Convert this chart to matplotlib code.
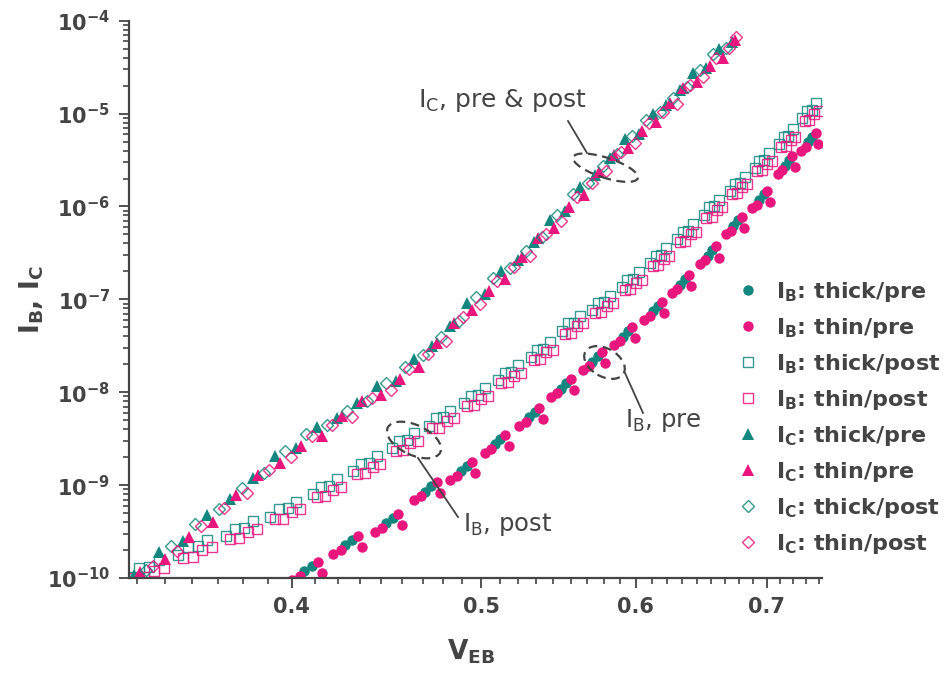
import matplotlib
matplotlib.use("Agg")
import matplotlib.pyplot as plt
from matplotlib.lines import Line2D
from matplotlib.patches import Ellipse
from matplotlib.ticker import FixedLocator, FuncFormatter, LogLocator, NullFormatter
import numpy as np

# ---- data (V_EB in V, currents in A) ----
veb_ib_thin_pre = [
    0.400, 0.404, 0.4125, 0.4145, 0.420, 0.424, 0.4325, 0.4345,
    0.441, 0.445, 0.4535, 0.4555, 0.462, 0.466, 0.4745, 0.4765,
    0.482, 0.486, 0.4945, 0.4965, 0.502, 0.506, 0.5145, 0.5165,
    0.523, 0.527, 0.5355, 0.5375, 0.543, 0.547, 0.5555, 0.5575,
    0.564, 0.568, 0.5765, 0.5785, 0.585, 0.589, 0.5975, 0.5995,
    0.606, 0.610, 0.6185, 0.6205, 0.626, 0.630, 0.6385, 0.6405,
    0.647, 0.651, 0.6595, 0.6615, 0.667, 0.671, 0.6795, 0.6815,
    0.688, 0.692, 0.7005, 0.7025, 0.709, 0.713, 0.7215, 0.7235,
    0.729, 0.733, 0.7415, 0.7435,
]
ib_thin_pre = [
    9.55e-11, 1.047e-10, 1.479e-10, 1.122e-10, 1.820e-10, 1.995e-10, 2.818e-10, 2.138e-10,
    3.162e-10, 3.467e-10, 4.898e-10, 3.715e-10, 6.918e-10, 7.586e-10, 1.072e-9, 8.128e-10,
    1.148e-9, 1.259e-9, 1.778e-9, 1.349e-9, 2.239e-9, 2.455e-9, 3.467e-9, 2.630e-9,
    4.365e-9, 4.786e-9, 6.761e-9, 5.129e-9, 8.913e-9, 9.772e-9, 1.380e-8, 1.047e-8,
    1.738e-8, 1.905e-8, 2.692e-8, 2.042e-8, 3.236e-8, 3.548e-8, 5.012e-8, 3.802e-8,
    6.026e-8, 6.607e-8, 9.333e-8, 7.079e-8, 1.175e-7, 1.288e-7, 1.820e-7, 1.380e-7,
    2.399e-7, 2.630e-7, 3.715e-7, 2.818e-7, 5.012e-7, 5.495e-7, 7.762e-7, 5.888e-7,
    9.550e-7, 1.047e-6, 1.479e-6, 1.122e-6, 2.239e-6, 2.455e-6, 3.467e-6, 2.630e-6,
    3.981e-6, 4.365e-6, 6.166e-6, 4.677e-6,
]

veb_ib_thick_pre = [
    0.406, 0.4095, 0.426, 0.4295, 0.447, 0.4505, 0.468, 0.4715,
    0.488, 0.4915, 0.508, 0.5115, 0.529, 0.5325, 0.549, 0.5525,
    0.570, 0.5735, 0.591, 0.5945, 0.612, 0.6155, 0.632, 0.6355,
    0.653, 0.6565, 0.673, 0.6765, 0.694, 0.6975, 0.715, 0.7185,
    0.735, 0.7385,
]
ib_thick_pre = [
    1.175e-10, 1.349e-10, 2.239e-10, 2.570e-10, 3.890e-10, 4.467e-10, 8.511e-10, 9.772e-10,
    1.413e-9, 1.622e-9, 2.754e-9, 3.162e-9, 5.370e-9, 6.166e-9, 1.096e-8, 1.259e-8,
    2.138e-8, 2.455e-8, 3.981e-8, 4.571e-8, 7.413e-8, 8.511e-8, 1.445e-7, 1.660e-7,
    2.951e-7, 3.388e-7, 6.166e-7, 7.079e-7, 1.175e-6, 1.349e-6, 2.754e-6, 3.162e-6,
    4.898e-6, 5.623e-6,
]

veb_ib_thick_post = [
    0.332, 0.334, 0.338, 0.342, 0.350, 0.354, 0.358, 0.362, 0.370, 0.374, 0.378, 0.382,
    0.390, 0.394, 0.398, 0.402, 0.410, 0.414, 0.418, 0.422, 0.430, 0.434, 0.438, 0.442,
    0.450, 0.454, 0.458, 0.462, 0.470, 0.474, 0.478, 0.482, 0.490, 0.494, 0.498, 0.502,
    0.510, 0.514, 0.518, 0.522, 0.530, 0.534, 0.538, 0.542, 0.550, 0.554, 0.558, 0.562,
    0.570, 0.574, 0.578, 0.582, 0.590, 0.594, 0.598, 0.602, 0.610, 0.614, 0.618, 0.622,
    0.630, 0.634, 0.638, 0.642, 0.650, 0.654, 0.658, 0.662, 0.670, 0.674, 0.678, 0.682,
    0.690, 0.694, 0.698, 0.702, 0.710, 0.714, 0.718, 0.722, 0.730, 0.734, 0.738, 0.742,
]
ib_thick_post = [
    1.02e-10, 1.29e-10, 1.32e-10, 1.55e-10, 1.78e-10, 2.14e-10, 2.19e-10, 2.57e-10,
    2.82e-10, 3.39e-10, 3.47e-10, 4.07e-10, 4.57e-10, 5.50e-10, 5.62e-10, 6.61e-10,
    7.94e-10, 9.55e-10, 9.77e-10, 1.15e-9, 1.41e-9, 1.70e-9, 1.74e-9, 2.04e-9,
    2.51e-9, 3.02e-9, 3.09e-9, 3.63e-9, 4.37e-9, 5.25e-9, 5.37e-9, 6.31e-9,
    7.59e-9, 9.12e-9, 9.33e-9, 1.10e-8, 1.35e-8, 1.62e-8, 1.66e-8, 1.95e-8,
    2.40e-8, 2.88e-8, 2.95e-8, 3.47e-8, 4.57e-8, 5.50e-8, 5.62e-8, 6.61e-8,
    7.59e-8, 9.12e-8, 9.33e-8, 1.10e-7, 1.35e-7, 1.62e-7, 1.66e-7, 1.95e-7,
    2.45e-7, 2.95e-7, 3.02e-7, 3.55e-7, 4.47e-7, 5.37e-7, 5.50e-7, 6.46e-7,
    8.13e-7, 9.77e-7, 1.00e-6, 1.17e-6, 1.45e-6, 1.74e-6, 1.78e-6, 2.09e-6,
    2.57e-6, 3.09e-6, 3.16e-6, 3.72e-6, 4.68e-6, 5.62e-6, 5.75e-6, 6.76e-6,
    8.91e-6, 1.07e-5, 1.10e-5, 1.29e-5,
]

veb_ib_thin_post = [
    0.332, 0.336, 0.340, 0.344, 0.352, 0.356, 0.360, 0.364, 0.372, 0.376, 0.380, 0.384,
    0.392, 0.396, 0.400, 0.404, 0.412, 0.416, 0.420, 0.424, 0.432, 0.436, 0.440, 0.444,
    0.452, 0.456, 0.460, 0.464, 0.472, 0.476, 0.480, 0.484, 0.492, 0.496, 0.500, 0.504,
    0.512, 0.516, 0.520, 0.524, 0.532, 0.536, 0.540, 0.544, 0.552, 0.556, 0.560, 0.564,
    0.572, 0.576, 0.580, 0.584, 0.592, 0.596, 0.600, 0.604, 0.612, 0.616, 0.620, 0.624,
    0.632, 0.636, 0.640, 0.644, 0.652, 0.656, 0.660, 0.664, 0.672, 0.676, 0.680, 0.684,
    0.692, 0.696, 0.700, 0.704, 0.712, 0.716, 0.720, 0.724, 0.732, 0.736, 0.740, 0.744,
]
ib_thin_post = [
    1.00e-10, 1.02e-10, 1.20e-10, 1.29e-10, 1.66e-10, 1.70e-10, 2.00e-10, 2.14e-10,
    2.63e-10, 2.69e-10, 3.16e-10, 3.39e-10, 4.27e-10, 4.37e-10, 5.13e-10, 5.50e-10,
    7.41e-10, 7.59e-10, 8.91e-10, 9.55e-10, 1.32e-9, 1.35e-9, 1.58e-9, 1.70e-9,
    2.34e-9, 2.40e-9, 2.82e-9, 3.02e-9, 4.07e-9, 4.17e-9, 4.90e-9, 5.25e-9,
    7.08e-9, 7.24e-9, 8.51e-9, 9.12e-9, 1.26e-8, 1.29e-8, 1.51e-8, 1.62e-8,
    2.24e-8, 2.29e-8, 2.69e-8, 2.88e-8, 4.27e-8, 4.37e-8, 5.13e-8, 5.50e-8,
    7.08e-8, 7.24e-8, 8.51e-8, 9.12e-8, 1.26e-7, 1.29e-7, 1.51e-7, 1.62e-7,
    2.29e-7, 2.34e-7, 2.75e-7, 2.95e-7, 4.17e-7, 4.27e-7, 5.01e-7, 5.37e-7,
    7.59e-7, 7.76e-7, 9.12e-7, 9.77e-7, 1.35e-6, 1.38e-6, 1.62e-6, 1.74e-6,
    2.40e-6, 2.45e-6, 2.88e-6, 3.09e-6, 4.37e-6, 4.47e-6, 5.25e-6, 5.62e-6,
    8.32e-6, 8.51e-6, 1.00e-5, 1.07e-5,
]

veb_ic_thick_pre = [
    0.332, 0.342, 0.352, 0.362, 0.372, 0.382, 0.392, 0.402, 0.412, 0.422, 0.432, 0.442,
    0.452, 0.462, 0.472, 0.482, 0.492, 0.502, 0.512, 0.522, 0.532, 0.542, 0.552, 0.562,
    0.572, 0.582, 0.592, 0.602, 0.612, 0.622, 0.632, 0.642, 0.652, 0.662, 0.672,
]
ic_thick_pre = [
    1.07e-10, 1.91e-10, 2.51e-10, 4.79e-10, 7.08e-10, 1.18e-9, 2.07e-9, 2.50e-9,
    4.19e-9, 5.25e-9, 7.59e-9, 1.17e-8, 1.32e-8, 2.26e-8, 3.13e-8, 5.13e-8,
    9.12e-8, 1.14e-7, 2.01e-7, 2.68e-7, 4.19e-7, 7.16e-7, 9.02e-7, 1.62e-6,
    2.19e-6, 3.35e-6, 5.31e-6, 6.06e-6, 9.94e-6, 1.23e-5, 1.78e-5, 2.75e-5,
    3.09e-5, 4.94e-5, 5.92e-5,
]

veb_ic_thin_pre = [
    0.3345, 0.3445, 0.3545, 0.3645, 0.3745, 0.3845, 0.3945, 0.4045, 0.4145, 0.4245,
    0.4345, 0.4445, 0.4545, 0.4645, 0.4745, 0.4845, 0.4945, 0.5045, 0.5145, 0.5245,
    0.5345, 0.5445, 0.5545, 0.5645, 0.5745, 0.5845, 0.5945, 0.6045, 0.6145, 0.6245,
    0.6345, 0.6445, 0.6545, 0.6645, 0.6745,
]
ic_thin_pre = [
    1.17e-10, 1.59e-10, 2.75e-10, 4.03e-10, 7.85e-10, 1.30e-9, 1.71e-9, 2.67e-9,
    3.40e-9, 5.56e-9, 8.04e-9, 9.44e-9, 1.40e-8, 1.87e-8, 3.41e-8, 5.62e-8,
    7.59e-8, 1.23e-7, 1.64e-7, 2.89e-7, 4.53e-7, 5.92e-7, 9.83e-7, 1.33e-6,
    2.37e-6, 3.57e-6, 4.29e-6, 6.44e-6, 8.02e-6, 1.30e-5, 1.88e-5, 2.21e-5,
    3.27e-5, 3.95e-5, 6.22e-5,
]

veb_ic_thick_post = [
    0.337, 0.347, 0.357, 0.367, 0.377, 0.387, 0.397, 0.407, 0.417, 0.427, 0.437, 0.447,
    0.457, 0.467, 0.477, 0.487, 0.497, 0.507, 0.517, 0.527, 0.537, 0.547, 0.557, 0.567,
    0.577, 0.587, 0.597, 0.607, 0.617, 0.627, 0.637, 0.647, 0.657, 0.667,
]
ic_thick_post = [
    1.23e-10, 2.21e-10, 3.80e-10, 5.50e-10, 9.33e-10, 1.35e-9, 2.34e-9, 3.59e-9,
    4.47e-9, 6.31e-9, 8.13e-9, 1.26e-8, 1.86e-8, 2.51e-8, 3.98e-8, 5.89e-8,
    1.05e-7, 1.68e-7, 2.19e-7, 3.35e-7, 4.68e-7, 8.13e-7, 1.35e-6, 1.78e-6,
    2.75e-6, 3.63e-6, 5.75e-6, 8.61e-6, 1.05e-5, 1.48e-5, 1.91e-5, 2.95e-5,
    4.37e-5, 5.13e-5,
]

veb_ic_thin_post = [
    0.3395, 0.3495, 0.3595, 0.3695, 0.3795, 0.3895, 0.3995, 0.4095, 0.4195, 0.4295,
    0.4395, 0.4495, 0.4595, 0.4695, 0.4795, 0.4895, 0.4995, 0.5095, 0.5195, 0.5295,
    0.5395, 0.5495, 0.5595, 0.5695, 0.5795, 0.5895, 0.5995, 0.6095, 0.6195, 0.6295,
    0.6395, 0.6495, 0.6595, 0.6695, 0.675,
]
ic_thin_post = [
    1.35e-10, 1.94e-10, 3.67e-10, 5.69e-10, 8.27e-10, 1.47e-9, 1.99e-9, 3.34e-9,
    4.42e-9, 5.43e-9, 8.61e-9, 1.06e-8, 1.77e-8, 2.56e-8, 3.55e-8, 6.46e-8,
    8.99e-8, 1.58e-7, 2.21e-7, 2.94e-7, 5.10e-7, 7.04e-7, 1.27e-6, 1.80e-6,
    2.39e-6, 3.87e-6, 4.85e-6, 7.96e-6, 1.04e-5, 1.27e-5, 2.02e-5, 2.48e-5,
    4.00e-5, 5.02e-5, 6.61e-5,
]

x_major = [0.4, 0.5, 0.6, 0.7]
x_labels = ["0.4", "0.5", "0.6", "0.7"]
legend_labels = [
    r"I$_\mathbf{B}$: thick/pre",
    r"I$_\mathbf{B}$: thin/pre",
    r"I$_\mathbf{B}$: thick/post",
    r"I$_\mathbf{B}$: thin/post",
    r"I$_\mathbf{C}$: thick/pre",
    r"I$_\mathbf{C}$: thin/pre",
    r"I$_\mathbf{C}$: thick/post",
    r"I$_\mathbf{C}$: thin/post",
]

TEAL = "#13877f"
PINK = "#e9167d"
INK = "#444444"

plt.rcParams["font.family"] = ["DejaVu Sans"]
plt.rcParams["mathtext.fontset"] = "custom"
plt.rcParams["mathtext.rm"] = "DejaVu Sans"
plt.rcParams["mathtext.bf"] = "DejaVu Sans:bold"

W, H = 943, 680
fig = plt.figure(figsize=(W / 100, H / 100), dpi=100)
ax = fig.add_axes([129 / W, 1 - 578 / H, (821.7 - 129) / W, (578 - 20.7) / H])

# (x, y, marker, colour, filled, size)
series = [
    (veb_ib_thick_pre, ib_thick_pre, "o", TEAL, True, 7.5),
    (veb_ib_thin_pre, ib_thin_pre, "o", PINK, True, 7.5),
    (veb_ib_thick_post, ib_thick_post, "s", TEAL, False, 7),
    (veb_ib_thin_post, ib_thin_post, "s", PINK, False, 7),
    (veb_ic_thick_pre, ic_thick_pre, "^", TEAL, True, 8.5),
    (veb_ic_thin_pre, ic_thin_pre, "^", PINK, True, 8.5),
    (veb_ic_thick_post, ic_thick_post, "D", TEAL, False, 6),
    (veb_ic_thin_post, ic_thin_post, "D", PINK, False, 6),
]

handles = []
for x, y, m, c, filled, ms in series:
    style = dict(ls="none", marker=m, ms=ms, mec=c, mfc=c if filled else "none",
                 mew=0 if filled else 1.0, alpha=1.0 if filled else 0.85)
    ax.plot(x, y, **style)
    handles.append(Line2D([], [], **style))

ax.set_xscale("log")
ax.set_yscale("log")
ax.set_xlim(0.3302, 0.7468)
ax.set_ylim(1e-10, 1e-4)

ax.xaxis.set_major_locator(FixedLocator(x_major))
ax.set_xticklabels(x_labels)
minor = [a / 10 + k * 0.1 / 9 for a in range(3, 8) for k in range(1, 9)]
ax.xaxis.set_minor_locator(FixedLocator(minor))
ax.xaxis.set_minor_formatter(NullFormatter())

ax.yaxis.set_major_locator(LogLocator(base=10, numticks=10))
ax.yaxis.set_minor_locator(LogLocator(base=10, subs=np.arange(2, 10), numticks=20))
ax.yaxis.set_major_formatter(FuncFormatter(lambda v, p: r"$\mathbf{10^{%d}}$" % round(np.log10(v))))
ax.yaxis.set_minor_formatter(NullFormatter())

for s in ("top", "right"):
    ax.spines[s].set_visible(False)
for s in ("left", "bottom"):
    ax.spines[s].set_color(INK)
    ax.spines[s].set_linewidth(1.6)

ax.tick_params(which="major", direction="out", length=7.5, width=1.3, color=INK,
               labelsize=15, labelcolor=INK, pad=6)
ax.tick_params(which="minor", direction="out", length=4, width=1.2, color=INK)
for lbl in ax.get_xticklabels():
    lbl.set_fontweight("bold")

ax.set_xlabel(r"V$_\mathbf{EB}$", fontsize=19, fontweight="bold", color=INK)
ax.xaxis.set_label_coords((471 - 129) / 692.7, -0.107)
ax.set_ylabel(r"I$_\mathbf{B}$, I$_\mathbf{C}$", fontsize=19, fontweight="bold", color=INK)
ax.yaxis.set_label_coords((46 - 129) / 692.7, 0.5)

fig.legend(handles, legend_labels, loc="upper left",
           bbox_to_anchor=(726 / W, 1 - 269 / H), frameon=False, borderpad=0,
           handlelength=1.0, handletextpad=0.75, labelspacing=0.54,
           prop=dict(size=16, weight="bold"), labelcolor=INK)


def fx(px):
    return px / W


def fy(py):
    return 1 - py / H


fig.text(fx(418), fy(100), r"I$_\mathrm{C}$, pre & post", fontsize=18, color=INK, va="center")
fig.text(fx(625), fy(421), r"I$_\mathrm{B}$, pre", fontsize=17.5, color=INK, va="center")
fig.text(fx(463), fy(525), r"I$_\mathrm{B}$, post", fontsize=17.5, color=INK, va="center")

for (x1, y1), (x2, y2) in [((568, 121), (587, 153)),
                           ((625, 373), (643, 413)),
                           ((418, 458), (458, 517))]:
    fig.add_artist(Line2D([fx(x1), fx(x2)], [fy(y1), fy(y2)], transform=fig.transFigure,
                          color=INK, lw=1.3))

for cx, cy, a, b, ang in [(605.5, 167.7, 34, 10, -18),
                          (604.5, 362.5, 22, 14, -30),
                          (414, 440, 29, 15, -25)]:
    fig.add_artist(Ellipse((cx / 100, (H - cy) / 100), 2 * a / 100, 2 * b / 100, angle=ang,
                           transform=fig.dpi_scale_trans, fill=False, ec=INK, lw=1.6,
                           ls=(0, (4, 2.5))))

fig.savefig("out.png", dpi=100)
